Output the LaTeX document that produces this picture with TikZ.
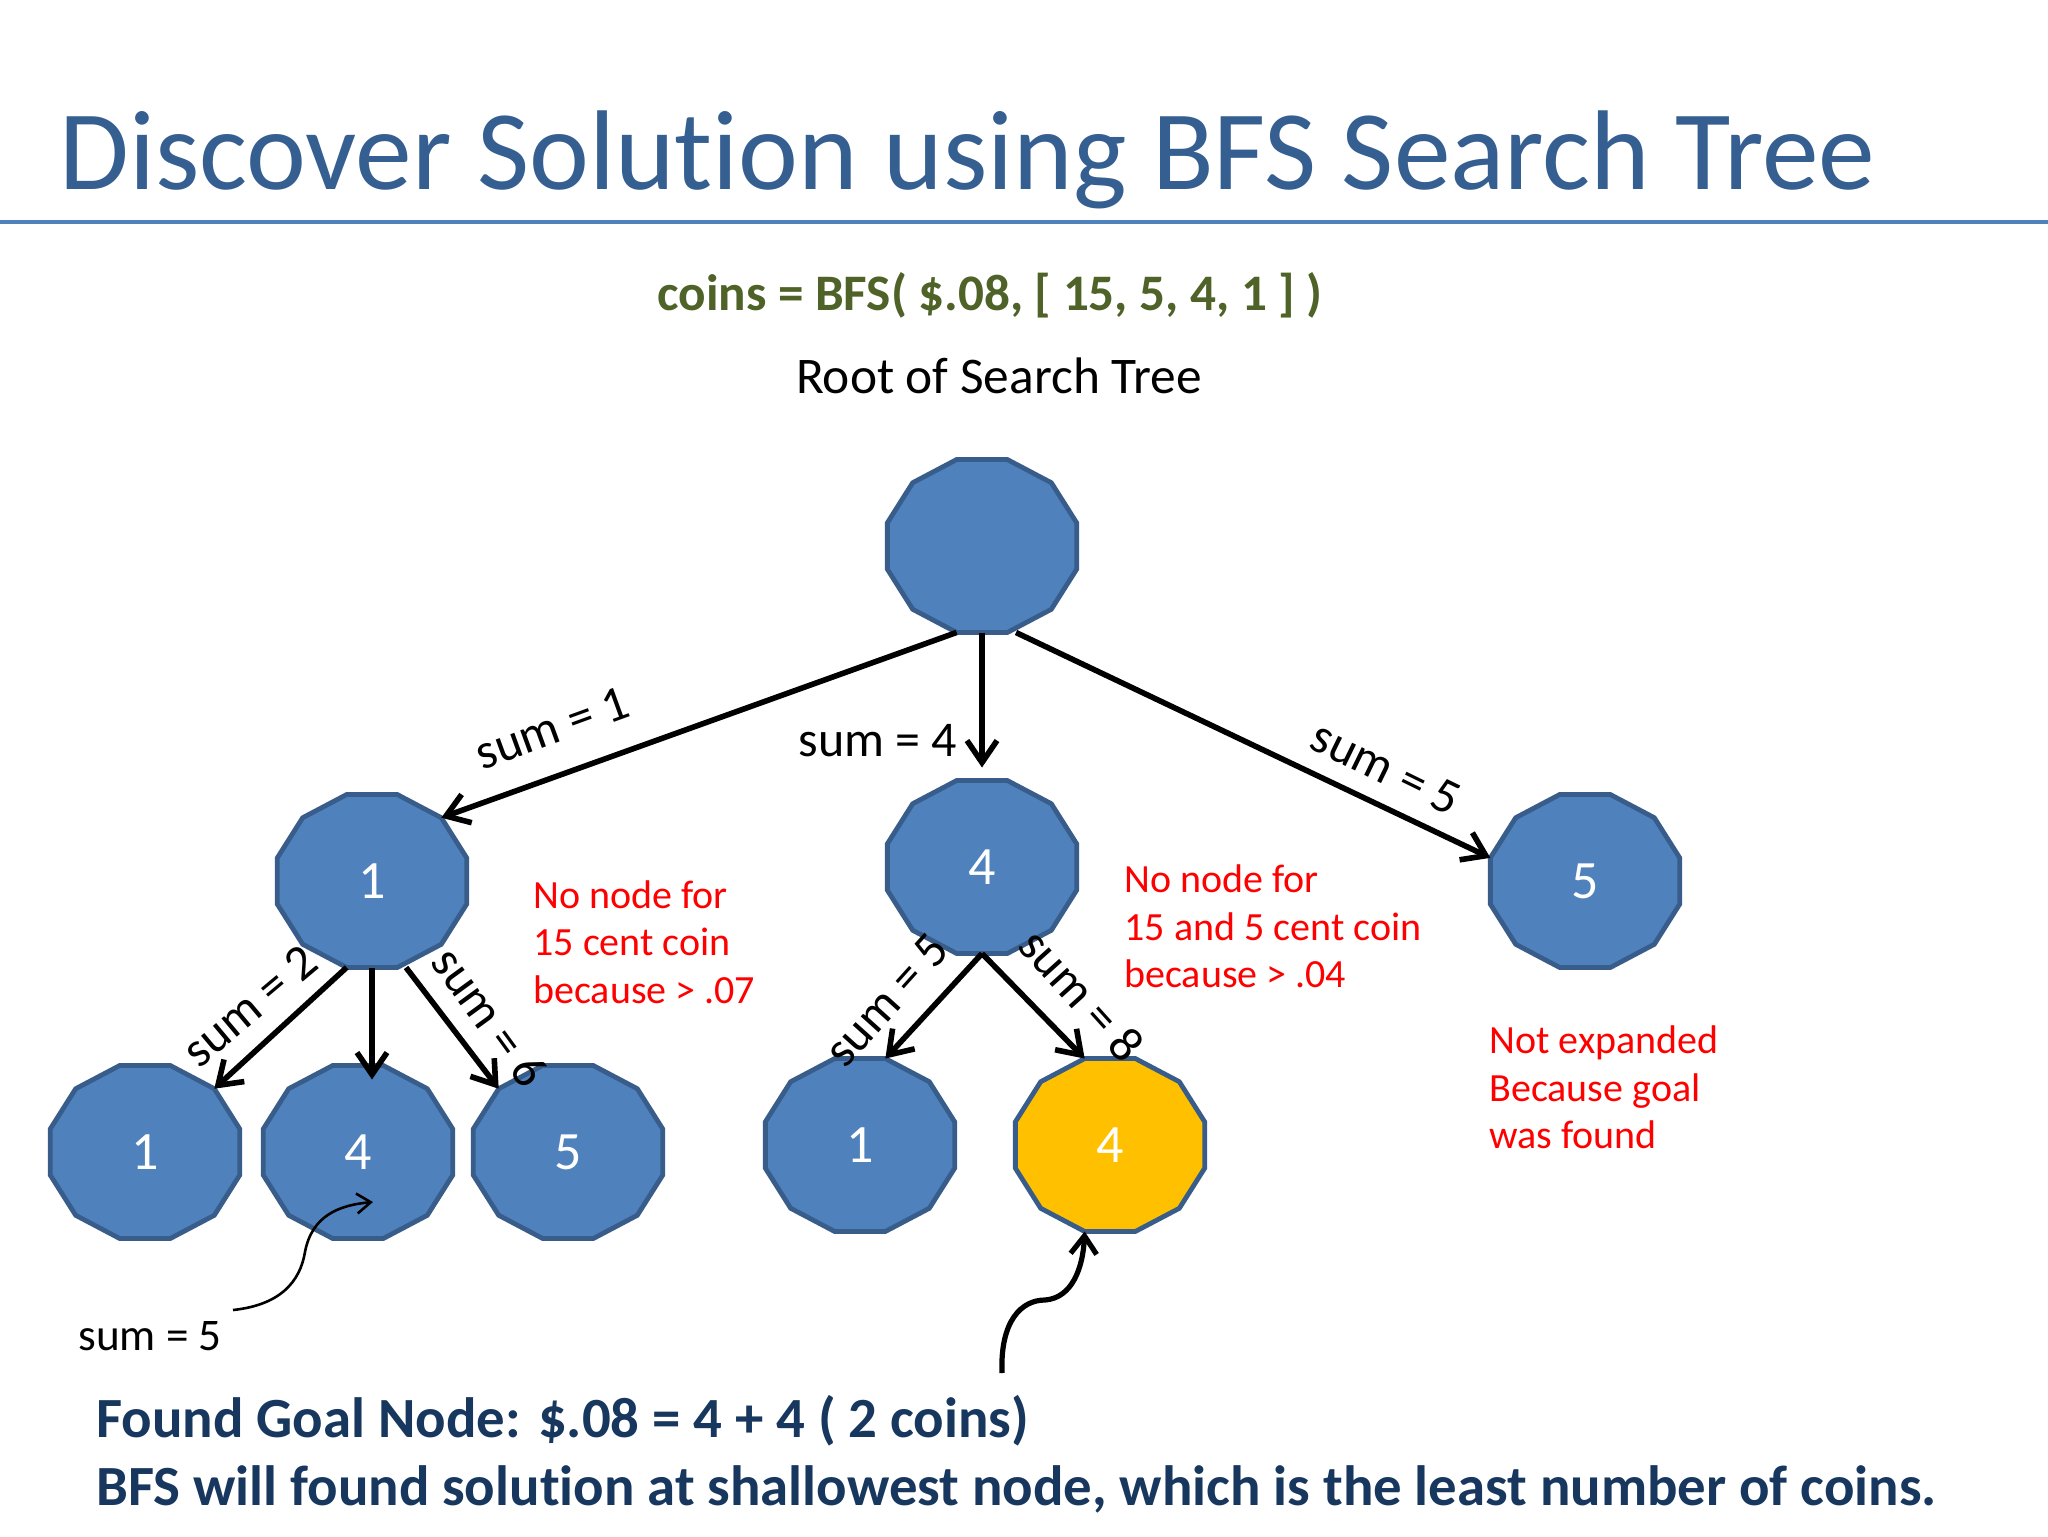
\documentclass[tikz,border=0pt]{standalone}
\usepackage{fontspec}
\setmainfont{Carlito}[Ligatures=NoCommon]
\usetikzlibrary{arrows.meta,calc}
\definecolor{titleblue}{RGB}{54,95,145}
\definecolor{ruleblue}{RGB}{79,129,189}
\definecolor{nodefill}{RGB}{79,129,189}
\definecolor{nodeborder}{RGB}{56,93,138}
\definecolor{goldfill}{RGB}{255,192,0}
\definecolor{olivegreen}{RGB}{79,98,40}
\definecolor{navytext}{RGB}{23,55,94}
\tikzset{
  polyborder/.style={draw=nodeborder, line width=2.4pt, line join=miter},
  digit/.style={text=white, font=\fontsize{27}{32}\selectfont, inner sep=0pt},
  edge/.style={line width=2.8pt, -{Straight Barb[length=11pt,width=15pt]}},
  elabel/.style={font=\fontsize{25}{30}\selectfont, inner sep=0pt},
  redtext/.style={text=red, font=\fontsize{20}{24}\selectfont, anchor=base west, inner sep=0pt},
  bottomtext/.style={text=navytext, font=\bfseries\fontsize{28.4}{34}\selectfont, anchor=base west, inner sep=0pt},
}
\newcommand\dodec[5]{%
  \begin{scope}[shift={(#2,#3)}]
    \draw[polyborder, fill=#4] (15:98 and 89.5) \foreach \a in {45,75,...,345} { -- (\a:98 and 89.5) } -- cycle;
    \foreach \a in {15,45,...,345} \coordinate (#1-\a) at (\a:98 and 89.5);
    \coordinate (#1-top) at (0,-86.5);
    \coordinate (#1-bot) at (0,86.5);
    \coordinate (#1-botr) at (34,86.5);
  \end{scope}
  \node[digit] (#1) at (#2,#3) {#5};
}
\begin{document}
\begin{tikzpicture}[x=0.5pt,y=-0.5pt]
\useasboundingbox (0,0) rectangle (2048,1536);
\fill[white] (0,0) rectangle (2048,1536);
% title
\node[anchor=base west, inner sep=0pt, text=titleblue, font=\fontsize{56.7}{60}\selectfont] (title) at (59,189) {Discover Solution using BFS Search Tree};
\draw[ruleblue, line width=1.8pt] (0,222) -- (2048,222);
\node[anchor=base, inner sep=0pt, text=olivegreen, font=\bfseries\fontsize{25.6}{30}\selectfont] (call) at (990,310) {coins = BFS( \$.08, [ 15, 5, 4, 1 ] )};
\node[anchor=base, inner sep=0pt, font=\fontsize{25.7}{30}\selectfont] (rootlbl) at (999,393) {Root of Search Tree};
% nodes
\dodec{root}{982}{546}{nodefill}{}
\dodec{L1}{372}{881}{nodefill}{1}
\dodec{M1}{982}{867}{nodefill}{4}
\dodec{R1}{1585}{881}{nodefill}{5}
\dodec{LL}{145}{1152}{nodefill}{1}
\dodec{LM}{358}{1152}{nodefill}{4}
\dodec{LR}{568}{1152}{nodefill}{5}
\dodec{ML}{860}{1145}{nodefill}{1}
\dodec{MR}{1110}{1145}{goldfill}{4}
% edges
\draw[edge] (root-105) -- (L1-315);
\draw[edge, shorten >=6.5pt] (root-bot) -- (M1-top);
\draw[edge] (root-botr) -- (R1-195);
\draw[edge] (L1-105) -- (LL-315);
\draw[edge] (L1-bot) -- ++(0,112);
\draw[edge] (L1-botr) -- (LR-225);
\draw[edge] (M1-bot) -- (ML-285);
\draw[edge] (M1-bot) -- (MR-255);
% edge labels
\node[elabel, rotate=20] (e1) at (552,728) {sum = 1};
\node[elabel] (e4) at (878,741) {sum = 4};
\node[elabel, rotate=-26] (e5) at (1386,768) {sum = 5};
\node[elabel, rotate=40] (e2) at (250,1006) {sum = 2};
\node[elabel, rotate=-54] (e6) at (490,1017) {sum = 6};
\node[elabel, rotate=48] (e5b) at (887,1000) {sum = 5};
\node[elabel, rotate=-48] (e8) at (1082,995) {sum = 8};
% red notes
\node[redtext] (n1a) at (533,908) {No node for};
\node[redtext] (n1b) at (533,955) {15 cent coin};
\node[redtext] (n1c) at (533,1003) {because > .07};
\node[redtext] (n2a) at (1124,892) {No node for};
\node[redtext] (n2b) at (1124,940) {15 and 5 cent coin};
\node[redtext] (n2c) at (1124,987) {because > .04};
\node[redtext] (n3a) at (1489,1053) {Not expanded};
\node[redtext] (n3b) at (1489,1101) {Because goal};
\node[redtext] (n3c) at (1489,1148) {was found};
% sum = 5 note
\node[anchor=base west, inner sep=0pt, font=\fontsize{22.6}{26}\selectfont] (s5) at (78,1350) {sum = 5};
\coordinate (c1s) at (233,1310);
\coordinate (c1e) at (373,1202);
\draw[line width=1.3pt, -{Straight Barb[length=7pt,width=10pt]}] (c1s) .. controls (280,1305) and (300,1282) .. (305,1252) .. controls (312,1215) and (340,1205) .. (c1e);
% goal arrow
\coordinate (g0) at (1002,1373);
\draw[line width=2.6pt, -{Straight Barb[length=9pt,width=13pt]}] (g0) .. controls (1000,1320) and (1022,1300) .. (1045,1300) .. controls (1072,1298) and (1083,1268) .. (MR-105);
% bottom text
\node[bottomtext] (found) at (96,1437) {Found Goal Node: \$.08 = 4 + 4 ( 2 coins)};
\node[bottomtext] (bfs) at (96,1505) {BFS will found solution at shallowest node, which is the least number of coins.};
\end{tikzpicture}
\end{document}
